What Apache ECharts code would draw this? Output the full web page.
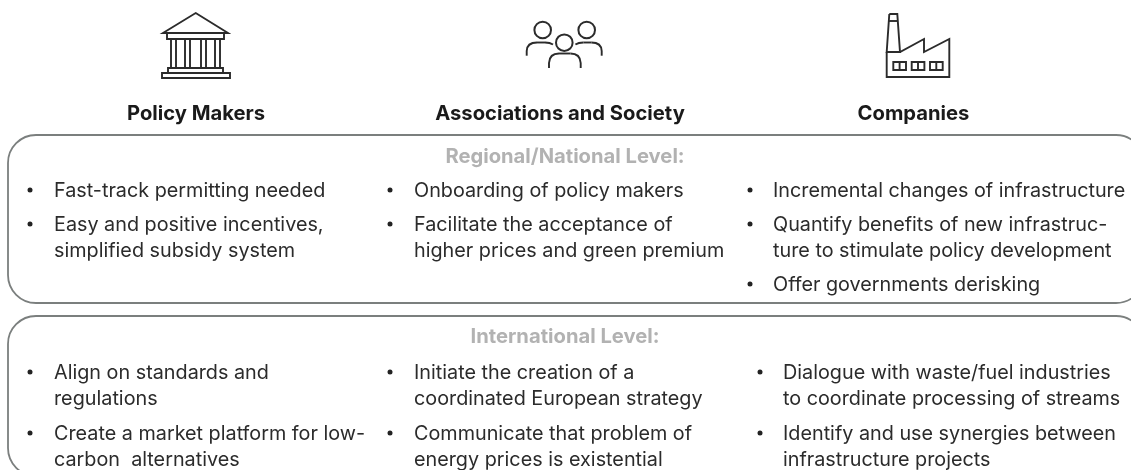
<!DOCTYPE html>
<html>
<head>
<meta charset="utf-8">
<style>html,body{margin:0;padding:0;background:#fff}#main{width:1131px;height:470px}</style>
<script src="https://cdn.jsdelivr.net/npm/echarts@6/dist/echarts.min.js"></script>
</head>
<body>
<div id="main"></div>
<script>
var headers = ['Policy Makers', 'Associations and Society', 'Companies'];
var levels = ['Regional/National Level:', 'International Level:'];

// one entry per bullet, one string per text line
var regionalPolicy = [['Fast-track permitting needed'], ['Easy and positive incentives,', 'simplified subsidy system']];
var regionalSociety = [['Onboarding of policy makers'], ['Facilitate the acceptance of', 'higher prices and green premium']];
var regionalCompanies = [['Incremental changes of infrastructure'], ['Quantify benefits of new infrastruc-', 'ture to stimulate policy development'], ['Offer governments derisking']];
var intlPolicy = [['Align on standards and', 'regulations'], ['Create a market platform for low-', 'carbon  alternatives']];
var intlSociety = [['Initiate the creation of a', 'coordinated European strategy'], ['Communicate that problem of', 'energy prices is existential']];
var intlCompanies = [['Dialogue with waste/fuel industries', 'to coordinate processing of streams'], ['Identify and use synergies between', 'infrastructure projects']];

var FONT = 'Inter';
var FONT_SIZE = 19.8;
var BOLD_SIZE = 20.2;
var INK = '#2b2b2b';
var els = [];

function txt(s, x, y, opt) {
  opt = opt || {};
  els.push({
    type: 'text', x: x, y: y + 1, silent: true, // +1: Inter sits a bit high in its line box
    style: {
      text: s, fontFamily: FONT, fontSize: opt.size || FONT_SIZE, fontWeight: opt.weight || 'normal',
      fill: opt.color || INK, align: opt.align || 'left', verticalAlign: 'middle'
    }
  });
}
function poly(points, closed) {
  els.push({
    type: closed ? 'polygon' : 'polyline', silent: true,
    shape: { points: points },
    style: { fill: closed ? '#fff' : null, stroke: INK, lineWidth: 1.9 }
  });
}
function box(x1, y1, x2, y2) {
  poly([[x1, y1], [x2, y1], [x2, y2], [x1, y2]], true);
}
function ring(cx, cy, r) {
  els.push({ type: 'circle', silent: true, shape: { cx: cx, cy: cy, r: r }, style: { fill: '#fff', stroke: INK, lineWidth: 2 } });
}
function quad(x1, y1, cx, cy, x2, y2) {
  els.push({
    type: 'bezierCurve', silent: true,
    shape: { x1: x1, y1: y1, x2: x2, y2: y2, cpx1: cx, cpy1: cy },
    style: { fill: null, stroke: INK, lineWidth: 1.9 }
  });
}
function panel(x, y, w, h) {
  els.push({
    type: 'rect', silent: true,
    shape: { x: x, y: y, width: w, height: h, r: 28 },
    style: { fill: '#fff', stroke: '#7b7f7e', lineWidth: 1.8 }
  });
}
function bullets(list, bulletX, textX, startY, lineGap, itemGap) {
  var y = startY;
  list.forEach(function (item) {
    els.push({ type: 'circle', silent: true, shape: { cx: bulletX, cy: y, r: 2.5 }, style: { fill: '#222' } });
    item.forEach(function (line, i) {
      txt(line, textX, y);
      if (i < item.length - 1) y += lineGap;
    });
    y += itemGap;
  });
}

// panels
panel(8, 135, 1136, 168);
panel(8, 316, 1136, 160);

// bank icon
poly([[195.7, 13], [228, 33], [163, 33]], true);
box(167, 33, 224, 39);
[171, 185, 201, 215].forEach(function (x) { box(x, 39, x + 5, 68); });
box(168, 68, 223, 73);
box(162, 73, 230, 78);

// people icon
poly([[526.7, 55.7], [526.7, 51]], false);
quad(526.7, 51, 527, 42.5, 537, 42.5);
poly([[537, 42.5], [545, 42.5]], false);
quad(545, 42.5, 550, 42.5, 553, 44.5);
poly([[601.7, 55.7], [601.7, 51]], false);
quad(601.7, 51, 601.4, 42.5, 591.4, 42.5);
poly([[591.4, 42.5], [583.4, 42.5]], false);
quad(583.4, 42.5, 578.4, 42.5, 575.4, 44.5);
poly([[549, 68], [549, 63]], false);
quad(549, 63, 549.5, 53.5, 559, 53.5);
poly([[559, 53.5], [570.5, 53.5]], false);
quad(570.5, 53.5, 580.2, 53.5, 580.7, 63);
poly([[580.7, 63], [580.7, 68]], false);
ring(542.7, 30, 8.3);
ring(586.7, 30, 8.3);
ring(564.3, 42.7, 8.3);

// factory icon
poly([[889.3, 14], [897.3, 14], [900, 52], [886.7, 52], [889.3, 14]], false);
poly([[888.6, 21], [898, 21]], false);
poly([[886.7, 52], [886.7, 77], [949.3, 77], [949.3, 39], [924, 52], [924, 39], [900, 52], [886.7, 52]], false);
[893.3, 911.7, 930].forEach(function (x) {
  box(x, 62, x + 12.7, 70);
  poly([[x + 6.3, 62], [x + 6.3, 70]], false);
});

// headers and level titles
txt(headers[0], 196, 113, { weight: 'bold', size: BOLD_SIZE, align: 'center', color: '#1a1a1a' });
txt(headers[1], 560, 113, { weight: 'bold', size: BOLD_SIZE, align: 'center', color: '#1a1a1a' });
txt(headers[2], 913.5, 113, { weight: 'bold', size: BOLD_SIZE, align: 'center', color: '#1a1a1a' });
txt(levels[0], 565, 156, { weight: 'bold', size: BOLD_SIZE, align: 'center', color: '#b2b2b2' });
txt(levels[1], 565, 336, { weight: 'bold', size: BOLD_SIZE, align: 'center', color: '#b2b2b2' });

// regional bullets
bullets(regionalPolicy, 30, 54, 190, 26, 34);
bullets(regionalSociety, 390, 414, 190, 26, 34);
bullets(regionalCompanies, 750, 773, 190, 26, 34);
// international bullets
bullets(intlPolicy, 30, 54, 372, 26, 35);
bullets(intlSociety, 390, 414, 372, 26, 35);
bullets(intlCompanies, 760, 783, 372, 26, 35);

var chart = echarts.init(document.getElementById('main'), null, { renderer: 'canvas' });
chart.setOption({ animation: false, backgroundColor: '#fff', graphic: { elements: els } });
</script>
</body>
</html>
